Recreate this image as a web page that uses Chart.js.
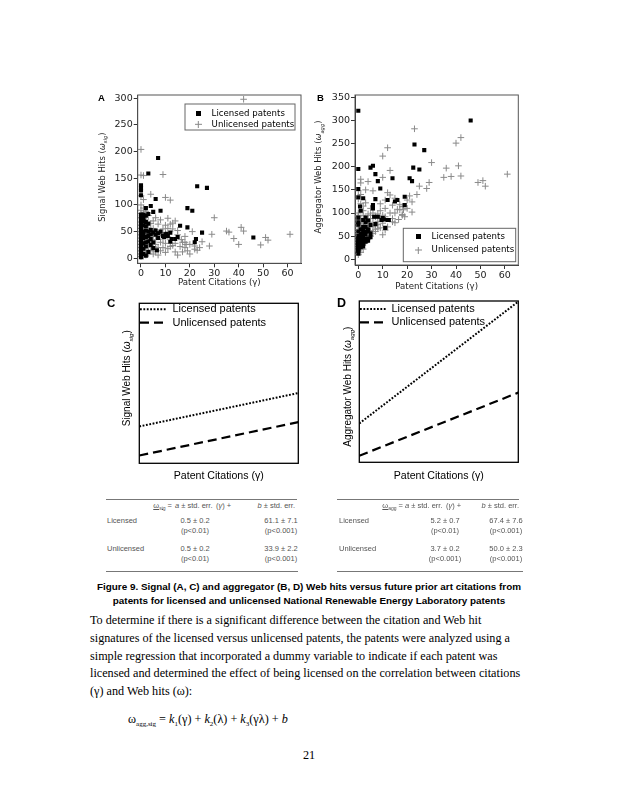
<!DOCTYPE html>
<html>
<head>
<meta charset="utf-8">
<script src="https://cdn.jsdelivr.net/npm/chart.js@4.4.0/dist/chart.umd.min.js"></script>
<style>
  html, body { margin: 0; padding: 0; background: #fff; }
  #page { position: relative; width: 618px; height: 800px; overflow: hidden; background: #fff; }
  .wrap { position: absolute; }
  .letter { position: absolute; font-family: "Liberation Sans", Arial, sans-serif; font-weight: bold; line-height: 1; color: #000; }
  .cell { position: absolute; font: 7.5px "Liberation Sans", Arial, sans-serif; line-height: 8px; white-space: nowrap; color: #555; }
  .mid { transform: translateX(-50%); }
  .end { transform: translateX(-100%); }
  .rule { position: absolute; height: 0; border-top: 1px solid #777; }
  .cell sub { font-size: 5px; vertical-align: -1.5px; }
  #caption { position: absolute; left: 0; width: 618px; top: 580px; text-align: center; font: bold 9.9px "Liberation Sans", Arial, sans-serif; line-height: 14px; color: #000; }
  #body { position: absolute; left: 90px; top: 612px; font: 12.2px "Liberation Serif", "Times New Roman", serif; line-height: 17.8px; white-space: nowrap; color: #000; }
  #eq { position: absolute; left: 128px; top: 712px; font: 12.2px "Liberation Serif", "Times New Roman", serif; white-space: nowrap; color: #000; }
  #eq sub { font-size: 7px; vertical-align: -3px; }
  #pageno { position: absolute; left: 0; width: 618px; top: 748px; text-align: center; font: 12.2px "Liberation Serif", "Times New Roman", serif; }
</style>
</head>
<body>
<div id="page">
  <div class="wrap" style="left:90px;top:88px;width:220px;height:200px"><canvas id="chartA"></canvas></div>
  <div class="wrap" style="left:305px;top:88px;width:220px;height:204px"><canvas id="chartB"></canvas></div>
  <div class="wrap" style="left:90px;top:292px;width:220px;height:190px"><canvas id="chartC"></canvas></div>
  <div class="wrap" style="left:305px;top:292px;width:220px;height:190px"><canvas id="chartD"></canvas></div>

  <div class="letter" style="left:98px;top:92.5px;font-size:9.5px">A</div>
  <div class="letter" style="left:317px;top:92.5px;font-size:9.5px">B</div>
  <div class="letter" style="left:107px;top:298px;font-size:11.5px">C</div>
  <div class="letter" style="left:337px;top:297px;font-size:12.5px">D</div>

  <!-- left table -->
  <div class="rule" style="left:106px;top:499px;width:191px"></div>
  <div class="cell end" style="left:172px;top:502px"><u>ω<sub>sig</sub></u> =</div>
  <div class="cell" style="left:175px;top:502px"><i>a</i> ± std. err.</div>
  <div class="cell" style="left:216px;top:502px">(<i>γ</i>) +</div>
  <div class="cell end" style="left:295px;top:502px"><i>b</i> ± std. err.</div>
  <div class="cell" style="left:107px;top:517px">Licensed</div>
  <div class="cell mid" style="left:195px;top:517px">0.5 ± 0.2</div>
  <div class="cell mid" style="left:195px;top:527px">(p&lt;0.01)</div>
  <div class="cell mid" style="left:281px;top:517px">61.1 ± 7.1</div>
  <div class="cell mid" style="left:281px;top:527px">(p&lt;0.001)</div>
  <div class="cell" style="left:107px;top:545px">Unlicensed</div>
  <div class="cell mid" style="left:195px;top:545px">0.5 ± 0.2</div>
  <div class="cell mid" style="left:195px;top:555px">(p&lt;0.01)</div>
  <div class="cell mid" style="left:281px;top:545px">33.9 ± 2.2</div>
  <div class="cell mid" style="left:281px;top:555px">(p&lt;0.001)</div>
  <div class="rule" style="left:106px;top:571px;width:192px"></div>

  <!-- right table -->
  <div class="rule" style="left:337px;top:499px;width:182px"></div>
  <div class="cell end" style="left:403px;top:502px"><u>ω<sub>agg</sub></u> =</div>
  <div class="cell" style="left:405px;top:502px"><i>a</i> ± std. err.</div>
  <div class="cell" style="left:446px;top:502px">(<i>γ</i>) +</div>
  <div class="cell end" style="left:519px;top:502px"><i>b</i> ± std. err.</div>
  <div class="cell" style="left:339px;top:517px">Licensed</div>
  <div class="cell mid" style="left:445px;top:517px">5.2 ± 0.7</div>
  <div class="cell mid" style="left:445px;top:527px">(p&lt;0.01)</div>
  <div class="cell mid" style="left:506px;top:517px">67.4 ± 7.6</div>
  <div class="cell mid" style="left:506px;top:527px">(p&lt;0.001)</div>
  <div class="cell" style="left:339px;top:545px">Unlicensed</div>
  <div class="cell mid" style="left:445px;top:545px">3.7 ± 0.2</div>
  <div class="cell mid" style="left:445px;top:555px">(p&lt;0.001)</div>
  <div class="cell mid" style="left:506px;top:545px">50.0 ± 2.3</div>
  <div class="cell mid" style="left:506px;top:555px">(p&lt;0.001)</div>
  <div class="rule" style="left:337px;top:571px;width:186px"></div>

  <div id="caption">Figure 9. Signal (A, C) and aggregator (B, D) Web hits versus future prior art citations from<br>patents for licensed and unlicensed National Renewable Energy Laboratory patents</div>

  <div id="body">To determine if there is a significant difference between the citation and Web hit<br>signatures of the licensed versus unlicensed patents, the patents were analyzed using a<br>simple regression that incorporated a dummy variable to indicate if each patent was<br>licensed and determined the effect of being licensed on the correlation between citations<br>(γ) and Web hits (ω):</div>

  <div id="eq">ω<sub>agg,sig</sub> = <i>k</i><sub>1</sub>(γ) + <i>k</i><sub>2</sub>(λ) + <i>k</i><sub>3</sub>(γλ) + <i>b</i></div>

  <div id="pageno">21</div>
</div>

<script>
// ---- data ----
const citationTicks = [0, 10, 20, 30, 40, 50, 60];
const signalTicks = [0, 50, 100, 150, 200, 250, 300];
const aggregatorTicks = [0, 50, 100, 150, 200, 250, 300, 350];

// licensed patents: citations (γ), signal hits (A), aggregator hits (B)
const licensedCitations = [46, 27, 23, 22.5, 25, 21, 22, 19, 19, 16,
  14, 15, 12, 12, 11, 7, 3, 6, 4, 2,
  8, 5, 3, 9, 10, 10.5, 9.5, 12.5, 7, 6,
  6, 5, 6.5, 0, 0, 0, 0, 0.7, 1, 4,
  3, 2, 1, 0, 0, 0, 0, 0, 0, 0,
  0, 0, 0, 0, 0, 0, 0, 0, 0, 1,
  1, 1, 1, 1, 1, 1, 1, 2, 2, 2,
  2, 2, 2, 3, 3, 3, 4, 4, 5, 5,
  3, 2, 0, 7, 8, 4];
const licensedSignalHits = [39, 132, 135, 36, 48, 89, 30, 94, 58, 61,
  36, 40, 48, 31, 42, 188, 159, 111, 98, 94,
  89, 87, 83, 42, 45, 46, 40, 36, 47, 52,
  44, 19, 15, 137, 132, 127, 118, 80, 75, 53,
  50, 60, 45, 82, 78, 72, 65, 60, 55, 50,
  45, 40, 35, 30, 25, 20, 15, 10, 6, 82,
  70, 62, 50, 38, 28, 18, 8, 80, 68, 52,
  40, 30, 22, 65, 42, 32, 45, 36, 48, 30,
  12, 5, 2, 38, 50, 25];
const licensedAggregatorHits = [300, 236, 248, 198, 194, 175, 169, 135, 117, 128,
  175, 125, 128, 85, 68, 184, 90, 202, 84, 132,
  169, 198, 60, 153, 89, 86, 85, 85, 130, 117,
  110, 74, 92, 321, 195, 152, 134, 114, 105, 60,
  70, 55, 40, 90, 80, 75, 60, 50, 45, 42,
  38, 35, 30, 28, 25, 20, 33, 22, 18, 65,
  55, 48, 44, 36, 30, 26, 40, 85, 70, 62,
  50, 42, 35, 80, 55, 45, 40, 65, 56, 48,
  38, 28, 12, 76, 92, 45];

// unlicensed patents
const unlicensedCitations = [61, 52, 51, 49, 42, 42, 41, 40, 38, 36,
  35, 30, 29, 28, 25, 23, 22, 22, 21, 18,
  17, 15, 14, 12, 13, 11, 10, 10, 10, 9,
  1, 0, 0, 0, 1, 4, 3, 6, 12, 13,
  15, 11, 18, 18.5, 18, 16.5, 14, 8, 9, 12,
  7, 6, 5, 4, 3, 2, 2, 1, 1, 0,
  0, 0, 0, 0, 0, 0, 0, 0, 0, 0,
  0, 0, 0, 0, 0, 1, 1, 1, 1, 1,
  1, 1, 1, 2, 2, 2, 2, 2, 2, 3,
  3, 3, 3, 4, 4, 4, 4, 5, 5, 5,
  5, 6, 6, 6, 7, 7, 7, 8, 8, 8,
  9, 9, 10, 10, 11, 11, 13, 14, 16, 17,
  19, 20, 24, 20, 15];
const unlicensedSignalHits = [45, 34, 39, 25, 298, 51, 58, 26, 37, 49,
  51, 76, 45, 23, 31, 15, 23, 17, 50, 41,
  12, 6, 70, 109, 66, 75, 114, 62, 11, 157,
  94, 204, 156, 117, 155, 120, 80, 76, 64, 55,
  44, 40, 30, 26, 20, 35, 28, 72, 55, 22,
  64, 35, 70, 65, 58, 88, 72, 110, 66, 100,
  90, 84, 76, 68, 62, 56, 50, 44, 38, 32,
  26, 20, 14, 8, 3, 82, 74, 58, 48, 36,
  24, 12, 4, 62, 50, 38, 26, 14, 6, 45,
  32, 20, 8, 52, 40, 28, 14, 56, 42, 22,
  8, 50, 26, 12, 42, 20, 6, 48, 30, 14,
  36, 20, 48, 28, 18, 56, 24, 12, 22, 30,
  14, 26, 20, 8, 52];
const unlicensedAggregatorHits = [184, 158, 170, 166, 263, 180, 202, 251, 179, 197,
  177, 209, 166, 153, 158, 282, 124, 102, 137, 97,
  107, 79, 117, 241, 192, 63, 223, 177, 53, 120,
  173, 20, 95, 148, 165, 168, 150, 148, 144, 139,
  132, 128, 114, 107, 95, 86, 81, 75, 68, 70,
  65, 100, 110, 98, 122, 115, 105, 140, 120, 130,
  100, 92, 85, 78, 70, 65, 60, 55, 48, 42,
  36, 30, 25, 18, 10, 88, 80, 72, 64, 52,
  40, 28, 15, 95, 78, 60, 46, 34, 22, 85,
  68, 50, 36, 88, 72, 58, 44, 95, 80, 62,
  50, 88, 70, 56, 92, 74, 60, 98, 82, 66,
  105, 88, 95, 78, 92, 110, 100, 88, 108, 118,
  92, 128, 140, 110, 100];

// schematic regression lines (C, D): end points at left and right edge
const trendCitationsC = [0, 62];
const licensedTrendC = [61, 92];
const unlicensedTrendC = [34, 65];
const trendCitationsD = [0, 10];
const licensedTrendD = [67.4, 133];
const unlicensedTrendD = [50, 84];

const seriesLabels = ['Licensed patents', 'Unlicensed patents'];

// ---- helpers ----
const toPoints = (xs, ys) => xs.map((x, i) => ({ x: x, y: ys[i] }));

Chart.defaults.font.family = 'DejaVu Sans';
Chart.defaults.color = '#222';
Chart.defaults.animation = false;

// frame box, legend box, rotated y title with subscript, legend placement
const decor = {
    id: 'decor',
    afterLayout(chart, args, opts) {
        const lg = chart.legend;
        if (!lg || !opts.legendAt) return;
        lg.left = opts.legendAt[0];
        lg.top = opts.legendAt[1];
        lg.right = lg.left + lg.width;
        lg.bottom = lg.top + lg.height;
    },
    afterDraw(chart, args, opts) {
        const ctx = chart.ctx;
        const a = chart.chartArea;
        ctx.save();
        ctx.strokeStyle = opts.frameColor;
        ctx.lineWidth = opts.frameWidth;
        ctx.strokeRect(a.left, a.top, a.right - a.left, a.bottom - a.top);
        if (opts.legendBox) {
            const [x0, y0, x1, y1] = opts.legendBox;
            ctx.lineWidth = 1;
            ctx.strokeStyle = '#666';
            ctx.strokeRect(x0, y0, x1 - x0, y1 - y0);
        }
        const t = opts.yTitle;
        if (t) {
            ctx.translate(t.x, (a.top + a.bottom) / 2 + t.dy);
            ctx.rotate(-Math.PI / 2);
            ctx.fillStyle = t.color;
            ctx.textAlign = 'left';
            ctx.textBaseline = 'alphabetic';
            const fontOf = p => (p.italic ? 'italic ' : '') + (p.sub ? t.size * 0.62 : t.size) + 'px ' + t.family;
            let total = 0;
            t.parts.forEach(p => { ctx.font = fontOf(p); total += ctx.measureText(p.text).width; });
            let x = -total / 2;
            t.parts.forEach(p => {
                ctx.font = fontOf(p);
                ctx.fillText(p.text, x, t.size * 0.36 + (p.sub ? t.size * 0.3 : 0));
                x += ctx.measureText(p.text).width;
            });
        }
        ctx.restore();
    }
};

function squareMark() {
    const c = document.createElement('canvas');
    c.width = 5; c.height = 5;
    const g = c.getContext('2d');
    g.fillStyle = '#000';
    g.fillRect(0, 0, 5, 5);
    return c;
}
function plusMark() {
    const c = document.createElement('canvas');
    c.width = 7; c.height = 7;
    const g = c.getContext('2d');
    g.strokeStyle = '#888';
    g.lineWidth = 1;
    g.beginPath();
    g.moveTo(0, 3.5); g.lineTo(7, 3.5);
    g.moveTo(3.5, 0); g.lineTo(3.5, 7);
    g.stroke();
    return c;
}
const legendMarks = [squareMark(), plusMark()];

function scatterChart(id, yHits, yMin, yMax, yTicks, geo, titleParts) {
    return new Chart(document.getElementById(id), {
        type: 'scatter',
        data: {
            datasets: [{
                label: seriesLabels[0],
                data: toPoints(licensedCitations, yHits[0]),
                pointStyle: 'rect',
                pointRadius: 2.9,
                backgroundColor: '#000',
                borderColor: '#000',
                borderWidth: 0
            }, {
                label: seriesLabels[1],
                data: toPoints(unlicensedCitations, yHits[1]),
                pointStyle: 'cross',
                pointRadius: 3.3,
                backgroundColor: '#8a8a8a',
                borderColor: '#8a8a8a',
                borderWidth: 1
            }]
        },
        options: {
            responsive: true,
            maintainAspectRatio: false,
            layout: { padding: { top: geo.top, right: geo.right, left: 0, bottom: 0 } },
            scales: {
                x: {
                    type: 'linear',
                    min: -1.35,
                    max: 65.5,
                    afterBuildTicks: s => { s.ticks = citationTicks.map(v => ({ value: v })); },
                    afterFit: s => { s.height = geo.xh; },
                    grid: { drawOnChartArea: false, tickLength: 4, color: '#333' },
                    border: { color: '#333' },
                    ticks: { autoSkip: false, maxRotation: 0, padding: 1, font: { size: 9.5 }, color: '#222' },
                    title: { display: true, text: 'Patent Citations (γ)', font: { size: 8.6 }, color: '#222', padding: { top: 0, bottom: 0 } }
                },
                y: {
                    min: yMin,
                    max: yMax,
                    afterBuildTicks: s => { s.ticks = yTicks.map(v => ({ value: v })); },
                    afterFit: s => { s.width = geo.yw; },
                    grid: { drawOnChartArea: false, tickLength: 4, color: '#333' },
                    border: { color: '#333' },
                    ticks: { autoSkip: false, padding: 1, font: { size: 9.5 }, color: '#222' }
                }
            },
            plugins: {
                legend: {
                    position: 'chartArea',
                    align: 'start',
                    labels: {
                        usePointStyle: true,
                        pointStyleWidth: 18,
                        padding: geo.legendPad,
                        font: { size: 8.6 },
                        color: '#222',
                        generateLabels: chart => chart.data.datasets.map((ds, i) => ({
                            text: ds.label, datasetIndex: i, pointStyle: legendMarks[i], lineWidth: 0, hidden: false
                        }))
                    }
                },
                tooltip: { enabled: false },
                decor: {
                    frameColor: '#555',
                    frameWidth: 1,
                    legendAt: geo.legendAt,
                    legendBox: geo.legendBox,
                    yTitle: { x: geo.titleX, dy: geo.titleDy, size: 8.4, family: 'DejaVu Sans', color: '#222', parts: titleParts }
                }
            }
        },
        plugins: [decor]
    });
}

function trendChart(id, xs, lic, unl, yMin, yMax, geo, titleParts) {
    return new Chart(document.getElementById(id), {
        type: 'line',
        data: {
            datasets: [{
                label: seriesLabels[0],
                data: toPoints(xs, lic),
                borderColor: '#000',
                borderWidth: 2,
                borderDash: [1.8, 1.6],
                pointRadius: 0,
                fill: false
            }, {
                label: seriesLabels[1],
                data: toPoints(xs, unl),
                borderColor: '#000',
                borderWidth: 2.2,
                borderDash: [9, 5],
                pointRadius: 0,
                fill: false
            }]
        },
        options: {
            responsive: true,
            maintainAspectRatio: false,
            layout: { padding: { top: geo.top, right: geo.right, left: 0, bottom: 0 } },
            scales: {
                x: {
                    type: 'linear',
                    min: xs[0],
                    max: xs[1],
                    afterFit: s => { s.height = geo.xh; },
                    grid: { display: false },
                    border: { display: false },
                    ticks: { display: false },
                    title: { display: true, text: 'Patent Citations (γ)', font: { family: 'Liberation Sans', size: 10.6 }, color: '#000', padding: { top: 0, bottom: 0 } }
                },
                y: {
                    min: yMin,
                    max: yMax,
                    afterFit: s => { s.width = geo.yw; },
                    grid: { display: false },
                    border: { display: false },
                    ticks: { display: false }
                }
            },
            plugins: {
                legend: {
                    position: 'chartArea',
                    align: 'start',
                    labels: {
                        usePointStyle: true,
                        pointStyleWidth: geo.sample,
                        padding: 2.4,
                        font: { family: 'Liberation Sans', size: 11 },
                        color: '#000',
                        generateLabels: chart => chart.data.datasets.map((ds, i) => ({
                            text: ds.label, datasetIndex: i, pointStyle: 'line', hidden: false,
                            lineDash: ds.borderDash, lineWidth: ds.borderWidth,
                            strokeStyle: ds.borderColor, fillStyle: ds.borderColor
                        }))
                    }
                },
                tooltip: { enabled: false },
                decor: {
                    frameColor: '#000',
                    frameWidth: 1.3,
                    legendAt: geo.legendAt,
                    yTitle: { x: geo.titleX, dy: geo.titleDy, size: 10, family: 'Liberation Sans', color: '#000', parts: titleParts }
                }
            }
        },
        plugins: [decor]
    });
}

const signalTitle = [{ text: 'Signal Web Hits (' }, { text: 'ω', italic: true }, { text: 'sig', sub: true, italic: true }, { text: ')' }];
const aggTitle = [{ text: 'Aggregator Web Hits (' }, { text: 'ω', italic: true }, { text: 'agg', sub: true, italic: true }, { text: ')' }];

scatterChart('chartA', [licensedSignalHits, unlicensedSignalHits], -9.4, 306, signalTicks, {
    top: 7, right: 9, yw: 47.7, xh: 24.7, legendPad: 2.4,
    legendAt: [96.9, 18.6], legendBox: [95, 16, 205, 42], titleX: 11.7, titleDy: -2
}, signalTitle);

scatterChart('chartB', [licensedAggregatorHits, unlicensedAggregatorHits], -12.3, 355, aggregatorTicks, {
    top: 7, right: 6.7, yw: 50, xh: 27, legendPad: 4.7,
    legendAt: [99.6, 139.7], legendBox: [98.3, 140.3, 210.7, 173.7], titleX: 13.3, titleDy: -3
}, aggTitle);

trendChart('chartC', trendCitationsC, licensedTrendC, unlicensedTrendC, 26.8, 175.3, {
    top: 11.3, right: 11.7, yw: 49.3, xh: 18.7, sample: 27, legendAt: [47.6, 9.4], titleX: 36.7, titleDy: -5
}, signalTitle);

trendChart('chartD', trendCitationsD, licensedTrendD, unlicensedTrendD, 46.5, 133.3, {
    top: 9, right: 6.7, yw: 54.3, xh: 19.7, sample: 26, legendAt: [52.6, 9.1], titleX: 42.7, titleDy: 5
}, aggTitle);
</script>
</body>
</html>
